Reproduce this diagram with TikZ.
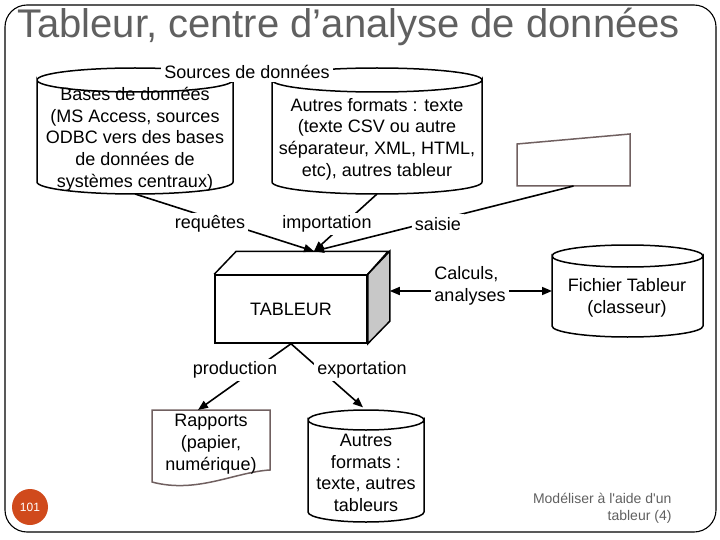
\documentclass[tikz,border=0pt]{standalone}
\usepackage{fontspec}
\setmainfont{Liberation Sans}
\usepackage{tikz}
\usetikzlibrary{arrows.meta}
\usepackage{xcolor}
\definecolor{titlegray}{RGB}{96,96,96}
\definecolor{docgray}{RGB}{112,96,96}
\definecolor{numred}{RGB}{208,74,28}
\definecolor{facegray}{RGB}{200,200,200}

\newcommand{\drumoutline}[3]{\draw[drum] ([yshift=-#3]#1.north west) arc[start angle=180,end angle=360,x radius=#2,y radius=#3] -- ([yshift=#3]#1.south east) arc[start angle=0,end angle=-180,x radius=#2,y radius=#3] -- cycle ([yshift=-#3]#1.north west) arc[start angle=180,end angle=0,x radius=#2,y radius=#3];}

\begin{document}
\begin{tikzpicture}[x=1pt,y=-1pt,>={Triangle[length=10pt,width=8pt]},font=\fontsize{18}{21.7}\selectfont,
  hold/.style={inner sep=0pt,outer sep=0pt},
  drum/.style={line width=1.5pt},
  docline/.style={draw=docgray,line width=1.5pt},
  boxline/.style={line width=1.5pt},
  link/.style={line width=1.6pt},
  tag/.style={fill=white,inner sep=3pt}]
\useasboundingbox (0,0) rectangle (720,540);
\draw[line width=1.1pt,rounded corners=22pt] (5,5) rectangle (716,532);
\node[anchor=base west,inner sep=0pt,text=titlegray,font=\fontsize{40}{40}\selectfont] (title) at (17,38) {Tableur, centre d’analyse de données};

\node[hold,minimum width=196pt,minimum height=126pt] (srcA) at (135,131) {};
\node[hold,minimum width=210pt,minimum height=126pt] (srcB) at (377,131) {};
\node[hold,minimum width=113pt,minimum height=52pt] (kbd) at (573.5,160) {};
\node[hold,minimum width=151pt,minimum height=92pt] (fich) at (627.5,291) {};
\node[hold,minimum width=116pt,minimum height=112pt] (autres) at (366,466) {};
\node[hold,minimum width=118pt,minimum height=60pt] (rap) at (211,440) {};
\drumoutline{srcA}{98pt}{12pt}
\drumoutline{srcB}{105pt}{12pt}
\drumoutline{fich}{75.5pt}{11pt}
\drumoutline{autres}{58pt}{10pt}
\draw[docline] (kbd.south west) -- (kbd.south east) -- (kbd.north east) -- ([yshift=-10pt]kbd.north west) -- cycle;
\draw[docline] (rap.north west) -- (rap.north east) -- (rap.south east) .. controls +(-35,2) and +(45,12) .. ([yshift=-12pt]rap.south west) -- cycle;

\node[draw,line width=1.5pt,fill=white,minimum width=152pt,minimum height=68pt] (tab) at (291,309) {TABLEUR};
\draw[boxline,fill=facegray] (tab.north east) -- ++(22,-23) -- ++(0,70) -- (tab.south east) -- cycle;
\draw[boxline] (tab.north west) -- ++(22,-23) -- ++(152,0) -- (tab.north east);
\coordinate (tabtop) at ([xshift=23pt,yshift=23pt]tab.north);
\coordinate (tabside) at ([xshift=22pt,yshift=18pt]tab.east);

\node[align=center] (srcAtxt) at (135,139) {Bases de données\\(MS Access, sources\\ODBC vers des bases\\de données de\\systèmes centraux)};
\node[align=center] (srcBtxt) at (377,139) {Autres formats : texte\\(texte CSV ou autre\\séparateur, XML, HTML,\\etc), autres tableur};
\node[tag] (srclbl) at (247,72) {Sources de données};
\node[align=center] (fichtxt) at (627,298) {Fichier Tableur\\(classeur)};
\node[align=center] (autrestxt) at (366,473) {Autres\\formats :\\texte, autres\\tableurs};
\node[align=center] (raptxt) at (211,444) {Rapports\\(papier,\\numérique)};

\draw[link,->] (srcA.south) -- (tabtop);
\draw[link,->] (srcB.south) -- (tabtop);
\draw[link,->] (kbd.south) -- (tabtop);
\draw[link,<->] (tabside) -- (fich.west);
\draw[link,->] (tab.south) -- ([xshift=-13pt]rap.north);
\draw[link,->,shorten >=4pt] (tab.south) -- (autres.north);

\node[tag] (lreq) at (210,224) {requêtes};
\node[tag] (limp) at (327,224) {importation};
\node[tag] (lsai) at (438,224) {saisie};
\node[tag,align=left] (lcalc) at (470,286) {Calculs,\\analyses};
\node[tag] (lprod) at (235,370) {production};
\node[tag] (lexp) at (362,370) {exportation};

\node[circle,fill=numred,minimum size=36pt,inner sep=0pt,text=white,font=\fontsize{12}{12}\selectfont] (pnum) at (30,507) {101};
\node[anchor=east,align=right,text=titlegray,font=\fontsize{14}{17}\selectfont] (foot) at (675,508) {Modéliser à l\textquotesingle aide d\textquotesingle un\\tableur (4)};
\end{tikzpicture}
\end{document}
